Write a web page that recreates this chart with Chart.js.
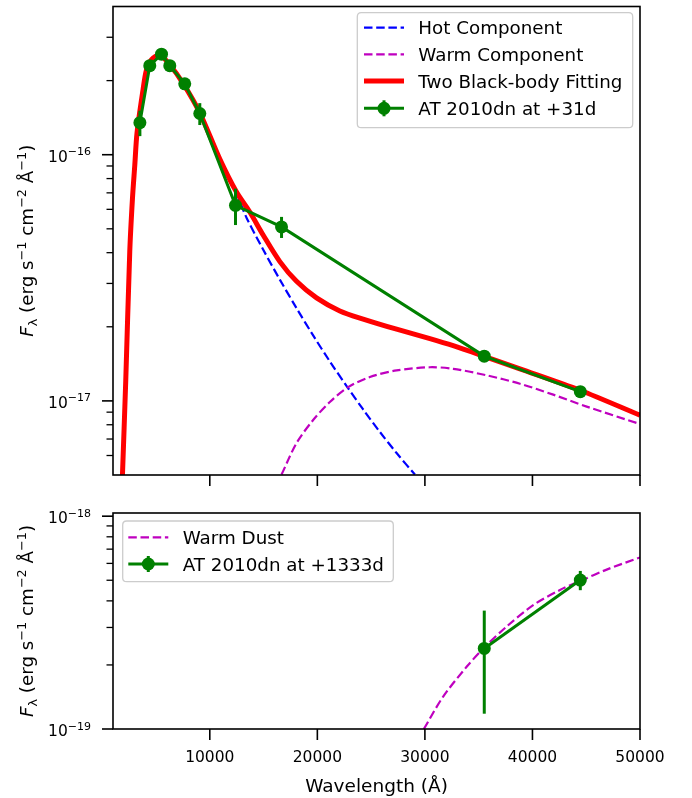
<!DOCTYPE html>
<html>
<head>
<meta charset="utf-8">
<script src="https://cdn.jsdelivr.net/npm/chart.js@4.4.1/dist/chart.umd.min.js"></script>
<style>
html, body { margin: 0; padding: 0; background: #fff; }
#wrap { position: relative; width: 692px; height: 798px; }
canvas { position: absolute; left: 0; }
#topChart { top: 0; }
#bottomChart { top: 500px; }
</style>
</head>
<body>
<div id="wrap">
  <canvas id="topChart" width="692" height="500"></canvas>
  <canvas id="bottomChart" width="692" height="298"></canvas>
</div>
<script>
// --- data ---
const xTicks = [10000, 20000, 30000, 40000, 50000];
const topMajorTicks = [1e-17, 1e-16];
const topMinorTicks = [6e-18, 7e-18, 8e-18, 9e-18, 2e-17, 3e-17, 4e-17, 5e-17, 6e-17, 7e-17, 8e-17, 9e-17, 2e-16, 3e-16];
const botMajorTicks = [1e-19, 1e-18];
const botMinorTicks = [2e-19, 3e-19, 4e-19, 5e-19, 6e-19, 7e-19, 8e-19, 9e-19];

// AT 2010dn at +31d
const wave31 = [3500, 4420, 5510, 6280, 7670, 9070, 12390, 16670, 35520, 44450];
const flux31 = [1.35e-16, 2.30e-16, 2.56e-16, 2.30e-16, 1.94e-16, 1.47e-16, 6.23e-17, 5.09e-17, 1.52e-17, 1.09e-17];
const err31  = [1.6e-17, 4e-18, 4e-18, 4e-18, 5e-18, 1.5e-17, 1.05e-17, 5e-18, 3e-19, 2e-19];

// two black-body fit (sum)
const fitWave = [1879, 2186, 2558, 2809, 3023, 3237, 3795, 4112, 4577, 5349, 6279, 7516, 9070, 10930, 12484, 13721, 14958, 16512, 18065, 19926, 22093, 24260, 27367, 30465, 32633, 35516, 38837, 44419, 50000];
const fitFlux = [5.0e-18, 1.21e-17, 4.04e-17, 6.63e-17, 9.03e-17, 1.23e-16, 1.84e-16, 2.21e-16, 2.43e-16, 2.54e-16, 2.32e-16, 1.95e-16, 1.48e-16, 9.6e-17, 7.05e-17, 5.85e-17, 4.72e-17, 3.68e-17, 3.06e-17, 2.62e-17, 2.32e-17, 2.15e-17, 1.955e-17, 1.79e-17, 1.675e-17, 1.517e-17, 1.35e-17, 1.105e-17, 8.75e-18];

// hot component
const hotWave = [1879, 2186, 2558, 2809, 3023, 3237, 3795, 4112, 4577, 5349, 6279, 7516, 9070, 10930, 12484, 13414, 14958, 16512, 18065, 19609, 21163, 22865, 24260, 25814, 27367, 29070];
const hotFlux = [5.0e-18, 1.21e-17, 4.04e-17, 6.63e-17, 9.03e-17, 1.23e-16, 1.84e-16, 2.21e-16, 2.43e-16, 2.54e-16, 2.32e-16, 1.95e-16, 1.48e-16, 9.5e-17, 6.95e-17, 5.55e-17, 4.12e-17, 3.11e-17, 2.38e-17, 1.845e-17, 1.446e-17, 1.125e-17, 9.23e-18, 7.48e-18, 6.14e-18, 5.02e-18];

// warm component
const warmWave = [16670, 18065, 19609, 21163, 22865, 24884, 27367, 30465, 32633, 35740, 38837, 41935, 45042, 50000];
const warmFlux = [5.02e-18, 6.74e-18, 8.36e-18, 9.9e-18, 1.138e-17, 1.25e-17, 1.33e-17, 1.37e-17, 1.35e-17, 1.27e-17, 1.174e-17, 1.06e-17, 9.48e-18, 8.05e-18];

// AT 2010dn at +1333d
const wave1333 = [35520, 44450];
const flux1333 = [2.39e-19, 5.01e-19];
const err1333  = [1.21e-19, 0.52e-19];

// warm dust
const dustWave = [29900, 31700, 33880, 35580, 37600, 40070, 42560, 44450, 46900, 50000];
const dustFlux = [1.0e-19, 1.42e-19, 1.96e-19, 2.43e-19, 3.03e-19, 3.82e-19, 4.50e-19, 4.96e-19, 5.61e-19, 6.40e-19];

const FONT = '"DejaVu Sans", sans-serif';
const GREEN = '#008000', RED = '#ff0000', BLUE = '#0000ff', MAGENTA = '#bf00bf';
const DASH = [8.5, 3.7];

function pts(xs, ys) {
  return xs.map((x, i) => ({ x: x, y: ys[i] }));
}

function seg(ctx, x1, y1, x2, y2, w) {
  ctx.lineWidth = w;
  ctx.beginPath();
  ctx.moveTo(x1, y1);
  ctx.lineTo(x2, y2);
  ctx.stroke();
}

// 10^-n tick label, right aligned
function pow10Label(ctx, exp, xRight, y) {
  ctx.fillStyle = '#000';
  ctx.textAlign = 'left';
  ctx.textBaseline = 'alphabetic';
  const sup = '\u2212' + Math.abs(exp);
  ctx.font = '15.5px ' + FONT;
  const wb = ctx.measureText('10').width;
  ctx.font = '11px ' + FONT;
  const ws = ctx.measureText(sup).width;
  const x0 = xRight - wb - ws;
  ctx.font = '15.5px ' + FONT;
  ctx.fillText('10', x0, y + 7);
  ctx.font = '11px ' + FONT;
  ctx.fillText(sup, x0 + wb, y + 0.5);
}

// F_lambda (erg s^-1 cm^-2 A^-1), rotated
function drawYTitle(ctx, xBase, yCenter) {
  const F = 18.3, S = 12.8;
  const parts = [
    { t: 'F', f: 'italic ' + F + 'px ' + FONT, dy: 0 },
    { t: '\u03bb', f: S + 'px ' + FONT, dy: 3.5 },
    { t: ' (erg s', f: F + 'px ' + FONT, dy: 0 },
    { t: '\u22121', f: S + 'px ' + FONT, dy: -7.7 },
    { t: ' cm', f: F + 'px ' + FONT, dy: 0 },
    { t: '\u22122', f: S + 'px ' + FONT, dy: -7.7 },
    { t: ' \u00c5', f: F + 'px ' + FONT, dy: 0 },
    { t: '\u22121', f: S + 'px ' + FONT, dy: -7.7 },
    { t: ')', f: F + 'px ' + FONT, dy: 0 }
  ];
  let total = 0;
  parts.forEach(p => { ctx.font = p.f; p.w = ctx.measureText(p.t).width; total += p.w; });
  ctx.save();
  ctx.translate(xBase, yCenter);
  ctx.rotate(-Math.PI / 2);
  ctx.fillStyle = '#000';
  ctx.textAlign = 'left';
  ctx.textBaseline = 'alphabetic';
  let x = -total / 2;
  parts.forEach(p => { ctx.font = p.f; ctx.fillText(p.t, x, p.dy); x += p.w; });
  ctx.restore();
}

function axesPlugin(cfg) {
  return {
    id: 'axes_' + cfg.name,
    afterDraw(chart) {
      const ctx = chart.ctx, a = chart.chartArea;
      const xs = chart.scales.x, ys = chart.scales.y;
      ctx.save();
      ctx.strokeStyle = '#000';
      ctx.lineWidth = 1.6;
      ctx.strokeRect(a.left, a.top, a.right - a.left, a.bottom - a.top);
      xTicks.forEach(v => {
        const px = xs.getPixelForValue(v);
        seg(ctx, px, a.bottom, px, a.bottom + 11, 1.6);
      });
      cfg.major.forEach(v => {
        const py = ys.getPixelForValue(v);
        seg(ctx, a.left - 11, py, a.left, py, 1.6);
        pow10Label(ctx, Math.round(Math.log10(v)), a.left - 22, py);
      });
      cfg.minor.forEach(v => {
        const py = ys.getPixelForValue(v);
        seg(ctx, a.left - 6.5, py, a.left, py, 1.3);
      });
      if (cfg.xLabels) {
        ctx.fillStyle = '#000';
        ctx.textAlign = 'center';
        ctx.textBaseline = 'alphabetic';
        ctx.font = '15.5px ' + FONT;
        xTicks.forEach(v => ctx.fillText(String(v), xs.getPixelForValue(v), a.bottom + 33.4));
        ctx.font = '18.5px ' + FONT;
        ctx.fillText('Wavelength (\u00c5)', (a.left + a.right) / 2, a.bottom + 62.7);
      }
      drawYTitle(ctx, 33.3, (a.top + a.bottom) / 2);
      ctx.restore();
    }
  };
}

function errorBarPlugin(name, xsArr, ysArr, errs) {
  return {
    id: 'err_' + name,
    afterDatasetsDraw(chart) {
      const ctx = chart.ctx, xs = chart.scales.x, ys = chart.scales.y;
      ctx.save();
      ctx.strokeStyle = GREEN;
      xsArr.forEach((w, i) => {
        const px = xs.getPixelForValue(w);
        const y1 = ys.getPixelForValue(ysArr[i] + errs[i]);
        const y2 = ys.getPixelForValue(ysArr[i] - errs[i]);
        seg(ctx, px, y1, px, y2, 3);
      });
      ctx.restore();
    }
  };
}

function legendPlugin(name, box, items) {
  return {
    id: 'legend_' + name,
    afterDraw(chart) {
      const ctx = chart.ctx;
      ctx.save();
      const r = 4, x = box.x, y = box.y, w = box.w, h = box.h;
      ctx.beginPath();
      ctx.moveTo(x + r, y);
      ctx.lineTo(x + w - r, y); ctx.quadraticCurveTo(x + w, y, x + w, y + r);
      ctx.lineTo(x + w, y + h - r); ctx.quadraticCurveTo(x + w, y + h, x + w - r, y + h);
      ctx.lineTo(x + r, y + h); ctx.quadraticCurveTo(x, y + h, x, y + h - r);
      ctx.lineTo(x, y + r); ctx.quadraticCurveTo(x, y, x + r, y);
      ctx.closePath();
      ctx.fillStyle = 'rgba(255,255,255,0.8)';
      ctx.fill();
      ctx.strokeStyle = '#cccccc';
      ctx.lineWidth = 1.3;
      ctx.stroke();
      items.forEach((it, i) => {
        const cy = box.rowY[i];
        ctx.strokeStyle = it.color;
        ctx.setLineDash(it.dash || []);
        seg(ctx, box.hx1, cy, box.hx2, cy, it.width);
        ctx.setLineDash([]);
        if (it.marker) {
          const mx = (box.hx1 + box.hx2) / 2;
          seg(ctx, mx, cy - 8, mx, cy + 8, 3);
          ctx.fillStyle = it.color;
          ctx.beginPath();
          ctx.arc(mx, cy, 6.5, 0, Math.PI * 2);
          ctx.fill();
        }
        ctx.fillStyle = '#000';
        ctx.font = '18.3px ' + FONT;
        ctx.textAlign = 'left';
        ctx.textBaseline = 'alphabetic';
        ctx.fillText(it.label, box.tx, cy + 6.6);
      });
      ctx.restore();
    }
  };
}

function curve(data, color, width, dash) {
  return {
    data: data, borderColor: color, backgroundColor: color, borderWidth: width,
    borderDash: dash || [], pointRadius: 0, cubicInterpolationMode: 'default', tension: 0.3, clip: 0, fill: false
  };
}

function obs(data) {
  return {
    data: data, borderColor: GREEN, backgroundColor: GREEN, borderWidth: 3,
    pointRadius: 6.5, pointBorderWidth: 0, pointBackgroundColor: GREEN, tension: 0, fill: false
  };
}

function baseOptions(pad, yMin, yMax) {
  return {
    responsive: false,
    animation: false,
    devicePixelRatio: 1,
    layout: { padding: pad },
    scales: {
      x: { type: 'linear', min: 1000, max: 50000, display: false },
      y: { type: 'logarithmic', min: yMin, max: yMax, display: false }
    },
    plugins: { legend: { display: false }, tooltip: { enabled: false } }
  };
}

// top panel: +31d
new Chart(document.getElementById('topChart'), {
  type: 'line',
  data: {
    datasets: [
      obs(pts(wave31, flux31)),
      curve(pts(fitWave, fitFlux), RED, 5),
      curve(pts(warmWave, warmFlux), MAGENTA, 2.2, DASH),
      curve(pts(hotWave, hotFlux), BLUE, 2.2, DASH)
    ]
  },
  options: baseOptions({ left: 113, right: 52, top: 4, bottom: 25 }, 5e-18, 4e-16),
  plugins: [
    errorBarPlugin('top', wave31, flux31, err31),
    axesPlugin({ name: 'top', major: topMajorTicks, minor: topMinorTicks, xLabels: false }),
    legendPlugin('top', { x: 357.3, y: 12.7, w: 275.4, h: 115, rowY: [27.7, 54.3, 81, 108.3], hx1: 364, hx2: 404, tx: 418.3 }, [
      { label: 'Hot Component', color: BLUE, width: 2.2, dash: DASH },
      { label: 'Warm Component', color: MAGENTA, width: 2.2, dash: DASH },
      { label: 'Two Black-body Fitting', color: RED, width: 5 },
      { label: 'AT 2010dn at +31d', color: GREEN, width: 3, marker: true }
    ])
  ]
});

// bottom panel: +1333d
new Chart(document.getElementById('bottomChart'), {
  type: 'line',
  data: {
    datasets: [
      obs(pts(wave1333, flux1333)),
      curve(pts(dustWave, dustFlux), MAGENTA, 2.2, DASH)
    ]
  },
  options: baseOptions({ left: 113, right: 52, top: 13, bottom: 69 }, 1e-19, 1.035e-18),
  plugins: [
    errorBarPlugin('bottom', wave1333, flux1333, err1333),
    axesPlugin({ name: 'bottom', major: botMajorTicks, minor: botMinorTicks, xLabels: true }),
    legendPlugin('bottom', { x: 122.7, y: 21, w: 270.6, h: 60.7, rowY: [37.3, 64], hx1: 128.3, hx2: 168.3, tx: 182.7 }, [
      { label: 'Warm Dust', color: MAGENTA, width: 2.2, dash: DASH },
      { label: 'AT 2010dn at +1333d', color: GREEN, width: 3, marker: true }
    ])
  ]
});
</script>
</body>
</html>
